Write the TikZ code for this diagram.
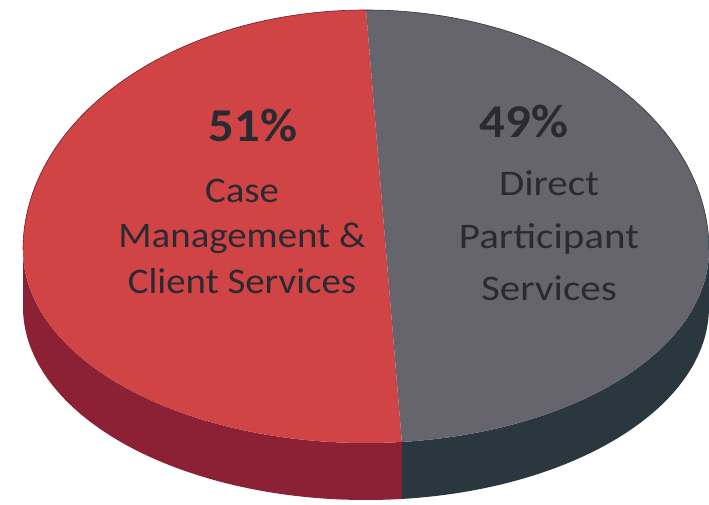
\documentclass[tikz,border=0pt]{standalone}
\usepackage{fontspec}
\setmainfont{Carlito}
\usetikzlibrary{calc}

\definecolor{redtop}{HTML}{D04446}
\definecolor{redside}{HTML}{8C2135}
\definecolor{graytop}{HTML}{66656E}
\definecolor{grayside}{HTML}{2A373E}
\definecolor{inktext}{HTML}{2A2A33}

\begin{document}
\begin{tikzpicture}[x=1pt,y=1pt,
pct/.style={font=\fontsize{47}{50}\selectfont\bfseries,text=inktext,inner sep=0pt,xscale=1.08},
lbl/.style={align=center,text=inktext,inner sep=0pt},
upper/.style={x radius=343,y radius=240},
lower/.style={x radius=343,y radius=193}]

\useasboundingbox (0,0) rectangle (709,505);
\fill[white] (0,0) rectangle (709,505);

% rim points of the top face
\coordinate (T) at (366,495);
\coordinate (L) at (23,255);
\coordinate (R) at (709,255);
\coordinate (S) at ($(366,255)+(276:343pt and 193pt)$);

% side band
\fill[redside] (L) arc[start angle=180,end angle=276,lower] -- ++(0,-57)
  arc[start angle=276,end angle=180,lower] -- cycle;
\fill[grayside] (S) arc[start angle=276,end angle=360,lower] -- ++(0,-57)
  arc[start angle=360,end angle=276,lower] -- cycle;

% top face
\fill[redtop] (T) arc[start angle=90,end angle=180,upper]
  arc[start angle=180,end angle=276,lower] -- cycle;
\fill[graytop] (T) arc[start angle=90,end angle=0,upper]
  arc[start angle=360,end angle=276,lower] -- cycle;
\draw[redside!80!black,line width=0.6pt] (T) arc[start angle=90,end angle=180,upper];
\draw[grayside,line width=0.6pt] (T) arc[start angle=90,end angle=0,upper];

\node[pct,anchor=base] (pctL) at (253,363) {51\%};
\node[lbl,xscale=1.08,font=\fontsize{36}{45.5}\selectfont] (lblL) at (242,269) {Case\\Management \&\\Client Services};
\node[pct,anchor=base] (pctR) at (524,367) {49\%};
\node[lbl,xscale=1.14,font=\fontsize{36}{52.5}\selectfont] (lblR) at (549,269) {Direct\\Participant\\Services};
\end{tikzpicture}
\end{document}
